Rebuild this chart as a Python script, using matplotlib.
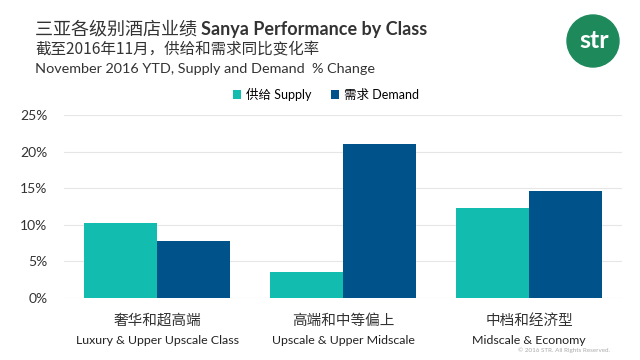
import matplotlib
matplotlib.use("Agg")
import matplotlib.pyplot as plt
from matplotlib.patches import Circle
import numpy as np

categories_cn = ["奢华和超高端", "高端和中等偏上", "中档和经济型"]
categories_en = ["Luxury & Upper Upscale Class", "Upscale & Upper Midscale", "Midscale & Economy"]
supply = [10.2, 3.5, 12.3]
demand = [7.8, 21.0, 14.6]
series_names = ["供给 Supply", "需求 Demand"]
yticks = [0, 5, 10, 15, 20, 25]

FAM = ["Lato", "Noto Sans CJK SC", "DejaVu Sans"]
CJK = ["Noto Sans CJK SC", "DejaVu Sans"]
plt.rcParams['font.family'] = CJK

W, H = 640, 360
fig = plt.figure(figsize=(6.4, 3.6), dpi=100)
fig.patch.set_facecolor("white")

ax = fig.add_axes([64 / W, 1 - 298 / H, (622 - 64) / W, (298 - 115) / H])
x = np.arange(len(categories_cn))
bw = 0.39
c_sup = "#12BCAE"
c_dem = "#00538A"
ax.bar(x - bw / 2, supply, bw, color=c_sup, label=series_names[0], zorder=3)
ax.bar(x + bw / 2, demand, bw, color=c_dem, label=series_names[1], zorder=3)
ax.set_xlim(-0.5, 2.5)
ax.set_ylim(0, 25)
ax.set_yticks(yticks)
ax.set_yticklabels([f"{v}%" for v in yticks], fontsize=10, color="#333333", family=FAM)
ax.yaxis.grid(True, color="#e6e6e6", linewidth=0.8, zorder=0)
ax.tick_params(axis="y", length=0, pad=12)
ax.tick_params(axis="x", length=0)
ax.set_xticks(x)
ax.set_xticklabels([])
for s in ax.spines.values():
    s.set_visible(False)
for i in range(len(categories_cn)):
    ax.text(x[i], -0.125, categories_cn[i], transform=ax.get_xaxis_transform(), ha="center", va="center",
            fontsize=10.5, color="#333333", family=CJK)
    ax.text(x[i], -0.23, categories_en[i], transform=ax.get_xaxis_transform(), ha="center", va="center",
            fontsize=8.9, color="#222222", family=FAM)

leg = fig.legend(loc="center", bbox_to_anchor=(326 / W, 1 - 94 / H), ncol=2, frameon=False,
                 handlelength=0.7, handleheight=0.7, handletextpad=0.4, columnspacing=1.5,
                 prop={"family": FAM, "size": 9})

# Titles
t1 = fig.text(35 / W, 1 - 30 / H, "三亚各级别酒店业绩 ", fontsize=13, color="#333333", family=CJK, va="center")
fig.canvas.draw()
bb = t1.get_window_extent()
fig.text(bb.x1 / W, 1 - 30 / H, "Sanya Performance by Class", fontsize=13, color="#333333",
         family=FAM, weight="bold", va="center")
fig.text(35 / W, 1 - 50 / H, "截至2016年11月，供给和需求同比变化率", fontsize=11.2, color="#333333", family=CJK, va="center")
fig.text(35 / W, 1 - 69 / H, "November 2016 YTD, Supply and Demand  % Change", fontsize=10.4, color="#333333",
         family=FAM, va="center")

# Logo
lax = fig.add_axes([0, 0, 1, 1], zorder=-1)
lax.set_xlim(0, W)
lax.set_ylim(H, 0)
lax.axis("off")
lax.add_patch(Circle((593, 41), 26, color="#1E8A5C"))
fig.text(594 / W, 1 - 40 / H, "str", fontsize=18, color="white", family=FAM, weight="bold", ha="center", va="center")

fig.text(610 / W, 1 - 350 / H, "© 2016 STR. All Rights Reserved.", fontsize=4.5, color="#aaaaaa", family=FAM,
         ha="right", va="center")

fig.savefig("out.png", dpi=100, facecolor="white")
